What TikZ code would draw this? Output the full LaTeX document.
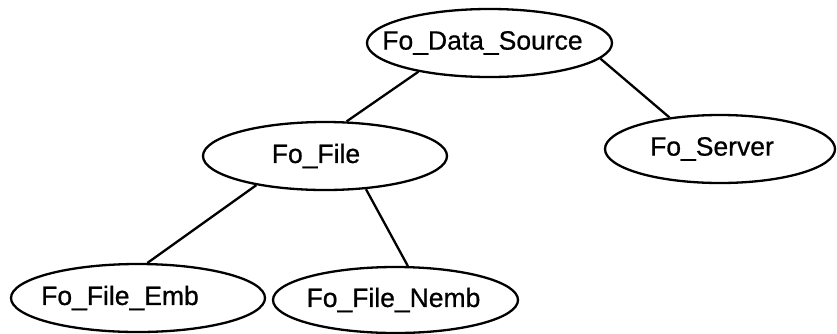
\documentclass[tikz,border=0pt]{standalone}
\usepackage{fontspec}
\setmainfont[FakeBold=0.7]{Liberation Sans}
\usetikzlibrary{shapes.geometric}

\tikzset{
  cls/.style={ellipse, draw, line width=2.3pt, inner sep=0pt,
    font=\fontsize{26.5}{29}\selectfont},
  link/.style={line width=2.3pt}
}
% zero-width label so the ellipse keeps its own size;
% the optional argument moves the text sideways (twice the shift)
\newcommand{\cname}[2][0pt]{\makebox[0pt]{\hspace*{#1}#2}}

\begin{document}
\begin{tikzpicture}[x=1pt, y=-1pt]
  \useasboundingbox (0,0) rectangle (837,333);

  \node[cls, minimum width=245pt, minimum height=68pt] (ds)   at (489.5,43)  {\cname[-14pt]{Fo\_Data\_Source}};
  \node[cls, minimum width=244pt, minimum height=68pt] (file) at (325,156)   {\cname[-18pt]{Fo\_File}};
  \node[cls, minimum width=230pt, minimum height=68pt] (srv)  at (720,149)   {\cname[-16pt]{Fo\_Server}};
  \node[cls, minimum width=254pt, minimum height=68pt] (emb)  at (138,298)   {\cname[-36pt]{Fo\_File\_Emb}};
  \node[cls, minimum width=245pt, minimum height=66pt] (nemb) at (395.5,300) {\cname[-4pt]{Fo\_File\_Nemb}};

  \draw[link] (ds.202.6)   -- (file.58.9);
  \draw[link] (ds.352.3)   -- (srv.148.5);
  \draw[link] (file.203.2) -- (emb.75.2);
  \draw[link] (file.321.7) -- (nemb.70.7);
\end{tikzpicture}
\end{document}
